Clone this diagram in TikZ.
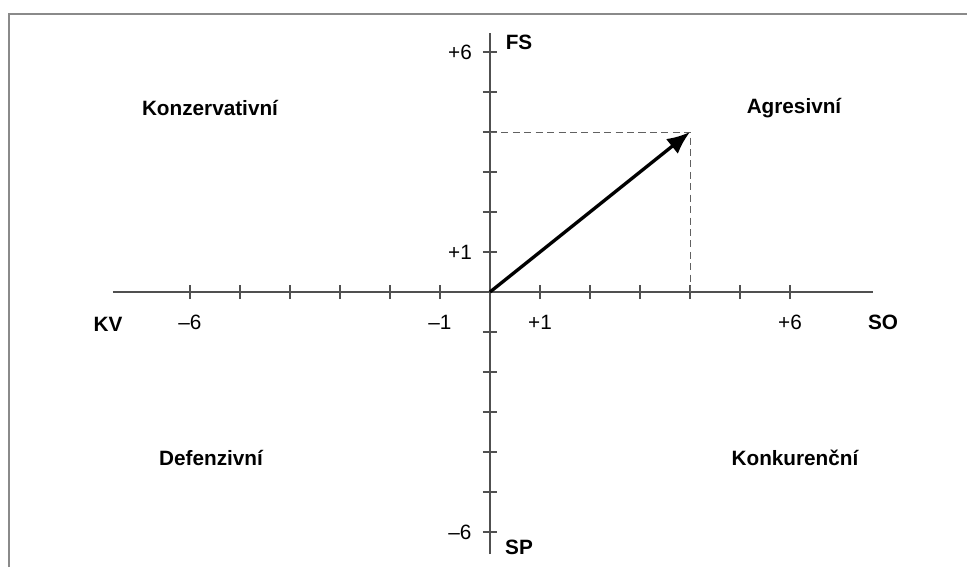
\documentclass[tikz,border=0pt]{standalone}
\usepackage{fontspec}
\setmainfont{Liberation Sans}
\usepackage{xcolor}
\usetikzlibrary{arrows.meta,positioning}

\definecolor{axisgray}{HTML}{505050}
\definecolor{framegray}{HTML}{8A8A8A}

\begin{document}
\begin{tikzpicture}[
  x=1cm, y=0.8cm,
  font=\fontsize{11.8}{14}\selectfont,
  axis/.style  = {draw=axisgray, line width=0.65pt},
  tick/.style  = {draw=axisgray, line width=0.65pt},
  help/.style  = {draw=axisgray!90, line width=0.55pt,
                  dash pattern=on 4pt off 2.5pt},
  vec/.style   = {-{Latex[length=4.6mm,width=3.8mm]}, line width=1.9pt},
  quad/.style  = {font=\fontsize{11.8}{14}\selectfont\bfseries},
  num/.style   = {inner sep=1pt}
]
\useasboundingbox (-9.8cm,-5.5cm) rectangle (9.54cm,5.84cm);
%% -- Frame --
\draw[framegray, line width=0.85pt]
  (-9.62cm,-5.5cm) -- (-9.62cm,5.56cm) -- (9.54cm,5.56cm);
%% -- Axes --
\coordinate (O)  at (0,0);
\coordinate (xl) at (-7.54cm,0);
\coordinate (xr) at (7.66cm,0);
\coordinate (yb) at (0,-5.24cm);
\coordinate (yt) at (0,5.18cm);
\draw[axis] (xl) -- (xr);
\draw[axis] (yb) -- (yt);
\foreach \i in {-6,...,-1,1,2,...,6}{
  \draw[tick] (\i,0) ++(0,-0.14cm) -- ++(0,0.28cm);
  \draw[tick] (0,\i) ++(-0.14cm,0) -- ++(0.28cm,0);}
%% -- Tick labels --
\foreach \i/\lb/\nm in {-6/--6/xa,-1/--1/xb,1/+1/xc,6/+6/xd}{
  \node[num] (\nm) at ([yshift=-0.6cm]\i,0) {\lb};}
\foreach \i/\lb/\nm in {6/+6/ya,1/+1/yb1,-6/--6/yc}{
  \node[num] (\nm) at ([xshift=-0.6cm]0,\i) {\lb};}
%% -- Axis names --
\node[quad] (kv) at (-7.64cm,-0.64cm) {KV};
\node[quad] (so) at (7.86cm,-0.6cm)   {SO};
\node[quad] (fs) at (0.58cm,5.0cm)    {FS};
\node[quad] (sp) at (0.58cm,-5.1cm)   {SP};
%% -- Quadrants --
\node[quad] (kon) at (-5.6cm,3.68cm)  {Konzervativní};
\node[quad] (agr) at (6.08cm,3.68cm)  {Agresivní};
\node[quad] (def) at (-5.58cm,-3.32cm) {Defenzivní};
\node[quad] (kkr) at (6.1cm,-3.32cm)  {Konkurenční};
%% -- Strategy vector --
\coordinate (P)  at (4,4);
\coordinate (Px) at (4,0);
\coordinate (Py) at (0,4);
\draw[help] (Py) -- (P) -- (Px);
\draw[vec] (O) -- (P);
\end{tikzpicture}
\end{document}
